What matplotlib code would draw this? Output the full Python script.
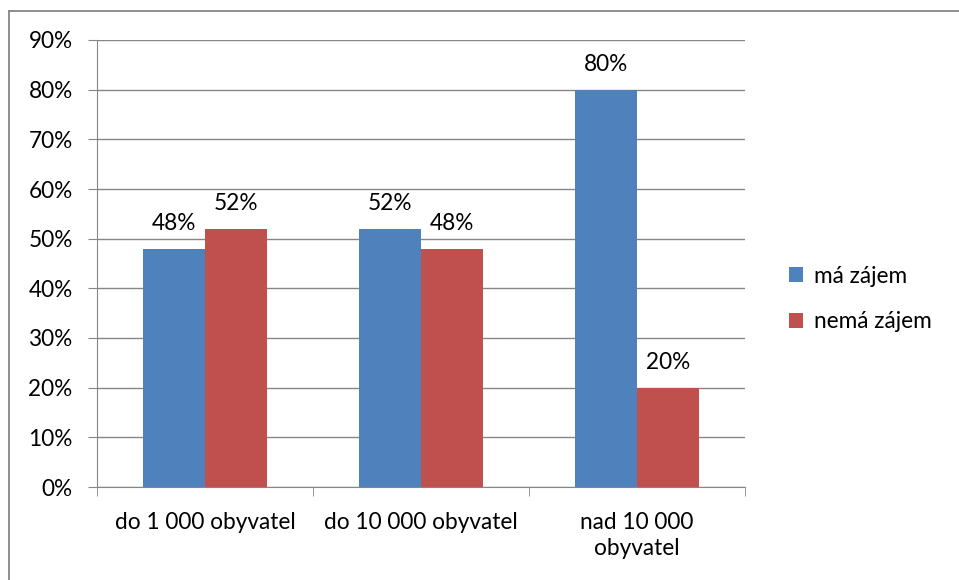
import matplotlib
matplotlib.use("Agg")
import matplotlib.pyplot as plt
import numpy as np

categories = ["do 1 000 obyvatel", "do 10 000 obyvatel", "nad 10 000\nobyvatel"]
series_names = ["má zájem", "nemá zájem"]
ma_zajem = [48, 52, 80]
nema_zajem = [52, 48, 20]
yticks = [0, 10, 20, 30, 40, 50, 60, 70, 80, 90]
colors = ["#4F81BD", "#C0504D"]

plt.rcParams['font.family'] = ['Lato', 'DejaVu Sans']
fs = 16.3

fig = plt.figure(figsize=(9.59, 5.80), dpi=100)
ax = fig.add_axes([97/959, 1 - 487/580, (745-97)/959, (487-40)/580])

x = np.arange(len(categories))
w = 0.287
for i, (vals, name) in enumerate(zip([ma_zajem, nema_zajem], series_names)):
    pos = x + (i - 0.5) * w
    bars = ax.bar(pos, vals, width=w, color=colors[i], label=name, zorder=3)
    for b, v in zip(bars, vals):
        ax.text(b.get_x() + b.get_width()/2, v + 3.8, f"{v}%", ha='center', va='baseline', fontsize=fs)

ax.set_xlim(-0.5, len(categories) - 0.5)
ax.set_ylim(0, 90)
ax.set_yticks(yticks)
ax.set_yticklabels([f"{t}%" for t in yticks], fontsize=fs)
ax.yaxis.grid(True, color="#868686", linewidth=1, zorder=0)
ax.set_axisbelow(True)

ax.set_xticks(x)
ax.set_xticklabels(categories, fontsize=fs, linespacing=1.3)
ax.tick_params(axis='x', length=0, pad=18)
ax.set_xticks(np.arange(-0.5, len(categories)), minor=True)
ax.tick_params(axis='x', which='minor', length=6.5, color="#868686", direction='out')
ax.tick_params(axis='y', length=6.5, color="#868686", direction='out', pad=11)

for s in ['top', 'right']:
    ax.spines[s].set_visible(False)
for s in ['left', 'bottom']:
    ax.spines[s].set_color("#868686")

leg = fig.legend(loc='center left', bbox_to_anchor=(769/959, 1 - 299/580), frameon=False,
                 fontsize=fs, handlelength=0.62, handleheight=0.62, labelspacing=1.1, handletextpad=0.45)

fig.add_artist(plt.Line2D([8.5/959, 8.5/959], [0, 1 - 10.5/580], transform=fig.transFigure,
                          color="#868686", linewidth=1.3))
fig.add_artist(plt.Line2D([8.5/959, 1], [1 - 10.5/580, 1 - 10.5/580], transform=fig.transFigure,
                          color="#868686", linewidth=1.3))

fig.savefig("out.png", dpi=100, facecolor='white')
